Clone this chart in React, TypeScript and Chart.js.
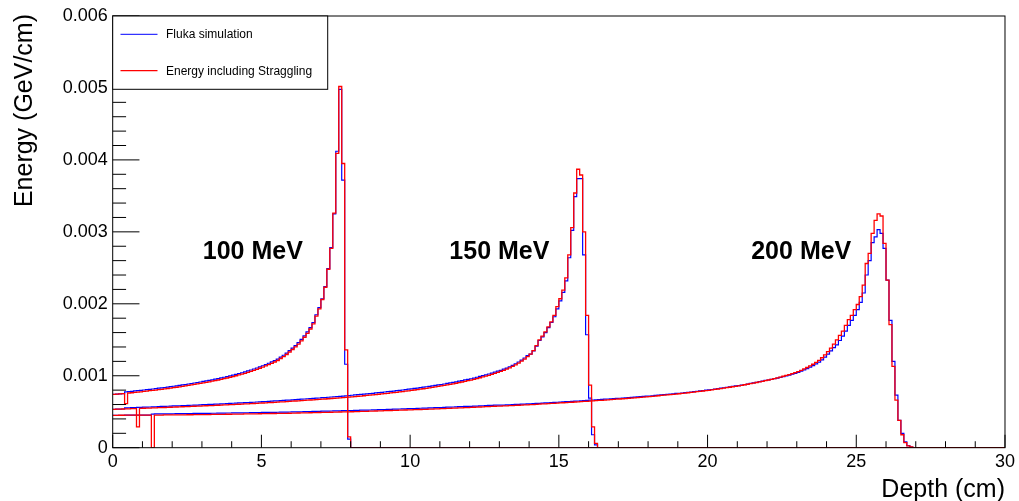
import React, { useEffect, useRef } from 'react';
import { Chart, registerables } from 'chart.js';

Chart.register(...registerables);

// ---------------- data ----------------
// Histograms with 0.1 cm bins starting at depth 0; values in 1e-6 GeV/cm.
const BIN_WIDTH = 0.1; // cm
const UNIT = 1e-6; // value unit -> GeV/cm
const X_MIN = 0;
const X_MAX = 30;
const Y_MIN = 0;
const Y_MAX = 0.006;
const X_MAJOR_STEP = 5;
const X_MINOR_STEP = 1;
const Y_MAJOR_STEP = 0.001;
const Y_MINOR_STEP = 0.0002;

const SERIES_NAMES = ['Fluka simulation', 'Energy including Straggling'];
const BEAM_LABELS = ['100 MeV', '150 MeV', '200 MeV'];
const BEAM_LABEL_DEPTH = [4.71, 13.0, 23.15];
const BEAM_LABEL_ENERGY = [0.00272, 0.00272, 0.00272];

const fluka100 = [
  740, 744, 748, 752, 776, 780, 784, 789, 793, 797,
  802, 807, 812, 816, 821, 827, 832, 837, 843, 848,
  854, 860, 866, 872, 878, 885, 892, 899, 906, 913,
  921, 928, 936, 944, 952, 961, 970, 979, 989, 999,
  1009, 1020, 1031, 1042, 1054, 1067, 1080, 1094, 1108, 1124,
  1139, 1156, 1174, 1192, 1211, 1232, 1260, 1285, 1315, 1350,
  1385, 1420, 1460, 1505, 1555, 1610, 1670, 1740, 1848, 1948,
  2070, 2240, 2490, 2780, 3250, 4120, 4980, 3720, 1160, 120,
];
const strag100 = [
  740, 744, 748, 752, 612, 760, 764, 769, 773, 777,
  782, 787, 792, 796, 801, 807, 812, 817, 823, 828,
  834, 840, 846, 852, 858, 865, 872, 879, 886, 893,
  901, 908, 916, 924, 932, 941, 950, 959, 969, 979,
  989, 1000, 1011, 1022, 1034, 1047, 1060, 1074, 1088, 1104,
  1119, 1136, 1154, 1172, 1191, 1212, 1240, 1265, 1295, 1330,
  1365, 1400, 1440, 1485, 1535, 1590, 1650, 1720, 1830, 1930,
  2060, 2230, 2480, 2770, 3260, 4090, 5020, 3950, 1360, 150,
];

const fluka150 = [
  534, 535, 537, 538, 554, 555, 557, 558, 560, 561,
  563, 565, 566, 568, 569, 571, 573, 574, 576, 577,
  580, 582, 583, 585, 586, 588, 590, 592, 593, 595,
  598, 600, 602, 603, 605, 607, 609, 611, 613, 615,
  618, 620, 622, 624, 626, 628, 630, 632, 635, 637,
  640, 642, 645, 647, 650, 652, 655, 657, 660, 662,
  666, 669, 671, 674, 677, 680, 683, 685, 688, 691,
  695, 698, 701, 705, 708, 711, 714, 718, 721, 725,
  729, 733, 737, 740, 744, 748, 752, 756, 761, 765,
  769, 774, 778, 783, 787, 792, 797, 802, 807, 813,
  818, 824, 829, 835, 841, 847, 853, 860, 866, 873,
  878, 885, 893, 900, 908, 916, 924, 933, 942, 951,
  958, 968, 979, 990, 1001, 1012, 1024, 1037, 1050, 1064,
  1076, 1091, 1107, 1125, 1145, 1167, 1191, 1218, 1247, 1280,
  1300, 1345, 1410, 1490, 1540, 1600, 1670, 1740, 1820, 1930,
  2040, 2160, 2320, 2640, 3020, 3490, 3740, 3740, 2680, 1570,
  690, 180, 40,
];
const strag150 = [
  534, 535, 537, 538, 540, 541, 543, 544, 290, 547,
  548, 550, 551, 553, 554, 556, 558, 559, 561, 562,
  564, 566, 567, 569, 570, 572, 574, 576, 577, 579,
  581, 583, 585, 586, 588, 590, 592, 594, 596, 598,
  600, 602, 604, 606, 608, 610, 612, 614, 617, 619,
  621, 623, 626, 628, 631, 633, 636, 638, 641, 643,
  646, 649, 651, 654, 657, 660, 663, 665, 668, 671,
  674, 677, 680, 684, 687, 690, 693, 697, 700, 704,
  707, 711, 715, 718, 722, 726, 730, 734, 739, 743,
  747, 752, 756, 761, 765, 770, 775, 780, 785, 791,
  796, 802, 807, 813, 819, 825, 831, 838, 844, 851,
  858, 865, 873, 880, 888, 896, 904, 913, 922, 931,
  940, 950, 961, 972, 983, 994, 1006, 1019, 1032, 1046,
  1061, 1076, 1092, 1110, 1130, 1152, 1176, 1203, 1232, 1265,
  1300, 1350, 1420, 1500, 1550, 1610, 1680, 1750, 1840, 1960,
  2070, 2190, 2360, 2680, 3060, 3540, 3870, 3790, 3000, 1840,
  870, 290, 60,
];

const fluka200 = [
  450, 450, 451, 451, 452, 452, 452, 453, 453, 453,
  454, 454, 454, 468, 470, 470, 470, 471, 471, 471,
  472, 473, 473, 474, 474, 475, 475, 476, 476, 477,
  477, 478, 478, 479, 479, 480, 481, 481, 482, 482,
  483, 484, 484, 485, 486, 486, 487, 488, 488, 489,
  490, 490, 491, 492, 492, 493, 494, 495, 495, 496,
  497, 498, 499, 500, 501, 502, 503, 504, 505, 506,
  507, 508, 509, 510, 511, 512, 513, 514, 515, 516,
  517, 518, 519, 521, 522, 523, 524, 526, 527, 528,
  530, 531, 532, 534, 535, 536, 538, 539, 541, 542,
  543, 545, 546, 548, 549, 551, 553, 554, 556, 558,
  559, 561, 563, 564, 566, 568, 570, 571, 573, 575,
  575, 577, 579, 581, 583, 585, 587, 589, 591, 592,
  592, 593, 595, 597, 599, 601, 603, 605, 607, 609,
  610, 612, 615, 617, 620, 622, 624, 627, 629, 632,
  634, 637, 639, 642, 644, 647, 649, 652, 655, 657,
  660, 663, 666, 669, 671, 674, 677, 680, 683, 686,
  687, 690, 693, 697, 700, 703, 707, 710, 713, 717,
  718, 722, 726, 730, 734, 738, 742, 746, 750, 754,
  756, 760, 765, 770, 774, 779, 784, 789, 794, 799,
  803, 809, 815, 821, 827, 833, 839, 845, 852, 858,
  863, 870, 878, 885, 893, 901, 909, 917, 926, 935,
  941, 950, 959, 968, 978, 988, 998, 1009, 1021, 1034,
  1047, 1063, 1081, 1100, 1120, 1141, 1164, 1190, 1222, 1258,
  1300, 1345, 1390, 1430, 1490, 1550, 1620, 1700, 1770, 1840,
  1920, 2020, 2150, 2400, 2600, 2850, 2930, 3030, 2980, 2770,
  2330, 1770, 1200, 730, 380, 200, 80, 30, 10,
];
const strag200 = [
  450, 450, 451, 451, 452, 452, 452, 453, 453, 453,
  454, 454, 454, 0, 454, 454, 454, 455, 455, 455,
  455, 456, 456, 457, 457, 458, 458, 459, 459, 460,
  460, 461, 461, 462, 462, 463, 464, 464, 465, 465,
  466, 467, 467, 468, 469, 469, 470, 471, 471, 472,
  473, 473, 474, 475, 475, 476, 477, 478, 478, 479,
  480, 481, 482, 483, 484, 485, 486, 487, 488, 489,
  490, 491, 492, 493, 494, 495, 496, 497, 498, 499,
  500, 501, 502, 504, 505, 506, 507, 509, 510, 511,
  513, 514, 515, 517, 518, 519, 521, 522, 524, 525,
  526, 528, 529, 531, 532, 534, 536, 537, 539, 541,
  542, 544, 546, 547, 549, 551, 553, 554, 556, 558,
  560, 562, 564, 566, 568, 570, 572, 574, 576, 577,
  578, 580, 582, 584, 586, 588, 590, 592, 594, 596,
  598, 600, 603, 605, 608, 610, 612, 615, 617, 620,
  622, 625, 627, 630, 632, 635, 637, 640, 643, 645,
  648, 651, 654, 657, 659, 662, 665, 668, 671, 674,
  677, 680, 683, 687, 690, 693, 697, 700, 703, 707,
  710, 714, 718, 722, 726, 730, 734, 738, 742, 746,
  750, 754, 759, 764, 768, 773, 778, 783, 788, 793,
  798, 804, 810, 816, 822, 828, 834, 840, 847, 853,
  860, 867, 875, 882, 890, 898, 906, 914, 923, 932,
  941, 951, 961, 971, 982, 993, 1004, 1016, 1029, 1043,
  1057, 1075, 1095, 1115, 1137, 1160, 1185, 1215, 1250, 1290,
  1335, 1385, 1440, 1500, 1560, 1620, 1700, 1780, 1840, 1920,
  1990, 2100, 2260, 2560, 2700, 2980, 3160, 3250, 3220, 2840,
  2330, 1710, 1130, 660, 380, 180, 70, 25, 10,
];

// ---------------- styles ----------------
const BLUE = '#0000ff';
const RED = '#ff0000';
const FONT = "'Liberation Sans', Arial, Helvetica, sans-serif";
const W = 1019;
const H = 501;

function toPoints(vals: number[]) {
  const pts = vals.map((v, i) => ({ x: X_MIN + i * BIN_WIDTH, y: v * UNIT }));
  pts.push({ x: X_MIN + vals.length * BIN_WIDTH, y: 0 });
  pts.push({ x: X_MAX, y: 0 });
  return pts;
}

function histDataset(label: string, vals: number[], color: string, width: number, order: number) {
  return {
    label,
    data: toPoints(vals),
    borderColor: color,
    backgroundColor: color,
    borderWidth: width,
    pointRadius: 0,
    fill: false,
    stepped: 'before' as const,
    tension: 0,
    order,
  };
}

const rootStylePlugin = {
  id: 'rootStyle',
  afterDraw(chart: any) {
    const { ctx, chartArea, scales } = chart;
    const xs = scales.x;
    const ys = scales.y;
    const { left, right, top, bottom } = chartArea;
    ctx.save();
    ctx.strokeStyle = '#000';
    ctx.lineWidth = 1;

    // frame
    ctx.strokeRect(left, top, right - left, bottom - top);

    // x ticks (inside, from bottom)
    const xTickMajor = (bottom - top) * 0.03;
    for (let v = X_MIN; v <= X_MAX + 1e-9; v += X_MINOR_STEP) {
      const px = xs.getPixelForValue(v);
      const isMajor = Math.abs(v / X_MAJOR_STEP - Math.round(v / X_MAJOR_STEP)) < 1e-6;
      const len = isMajor ? xTickMajor : xTickMajor / 2;
      ctx.beginPath();
      ctx.moveTo(px, bottom);
      ctx.lineTo(px, bottom - len);
      ctx.stroke();
    }
    // y ticks (inside, from left)
    const yTickMajor = (right - left) * 0.03;
    const nY = Math.round((Y_MAX - Y_MIN) / Y_MINOR_STEP);
    for (let k = 0; k <= nY; k++) {
      const v = Y_MIN + k * Y_MINOR_STEP;
      const py = ys.getPixelForValue(v);
      const ratio = (v - Y_MIN) / Y_MAJOR_STEP;
      const isMajor = Math.abs(ratio - Math.round(ratio)) < 1e-6;
      const len = isMajor ? yTickMajor : yTickMajor / 2;
      ctx.beginPath();
      ctx.moveTo(left, py);
      ctx.lineTo(left + len, py);
      ctx.stroke();
    }

    // legend box
    const lgR = 327.7;
    const lgB = 89.3;
    ctx.fillStyle = '#fff';
    ctx.fillRect(left, top, lgR - left, lgB - top);
    ctx.strokeRect(left, top, lgR - left, lgB - top);
    const rowY = [34.3, 70.7];
    const colors = [BLUE, RED];
    ctx.font = `12px ${FONT}`;
    ctx.textBaseline = 'middle';
    ctx.textAlign = 'left';
    for (let i = 0; i < 2; i++) {
      ctx.strokeStyle = colors[i];
      ctx.lineWidth = i === 0 ? 1 : 1.3;
      ctx.beginPath();
      ctx.moveTo(120.5, rowY[i]);
      ctx.lineTo(157.5, rowY[i]);
      ctx.stroke();
      ctx.fillStyle = '#000';
      ctx.fillText(SERIES_NAMES[i], 166, rowY[i] + 0.5);
    }

    // beam energy labels
    ctx.font = `bold 25px ${FONT}`;
    ctx.textAlign = 'center';
    ctx.textBaseline = 'middle';
    ctx.fillStyle = '#000';
    for (let i = 0; i < BEAM_LABELS.length; i++) {
      ctx.fillText(
        BEAM_LABELS[i],
        xs.getPixelForValue(BEAM_LABEL_DEPTH[i]),
        ys.getPixelForValue(BEAM_LABEL_ENERGY[i])
      );
    }

    // axis titles
    ctx.font = `25px ${FONT}`;
    ctx.textAlign = 'right';
    ctx.textBaseline = 'alphabetic';
    ctx.fillText('Depth (cm)', right, 496.5);
    ctx.save();
    ctx.translate(31.5, top - 2);
    ctx.rotate(-Math.PI / 2);
    ctx.textAlign = 'right';
    ctx.fillText('Energy (GeV/cm)', 0, 0);
    ctx.restore();

    ctx.restore();
  },
};

export default function App() {
  const ref = useRef<HTMLCanvasElement | null>(null);
  useEffect(() => {
    document.body.style.margin = '0';
    const canvas = ref.current;
    if (!canvas) return;
    // lower "order" is drawn on top: red (straggling) above blue (Fluka)
    const chart = new Chart(canvas, {
      type: 'line',
      data: {
        datasets: [
          histDataset(SERIES_NAMES[0], fluka100, BLUE, 1.2, 2),
          histDataset(SERIES_NAMES[0], fluka150, BLUE, 1.2, 2),
          histDataset(SERIES_NAMES[0], fluka200, BLUE, 1.2, 2),
          histDataset(SERIES_NAMES[1], strag100, RED, 1.3, 1),
          histDataset(SERIES_NAMES[1], strag150, RED, 1.3, 1),
          histDataset(SERIES_NAMES[1], strag200, RED, 1.3, 1),
        ] as any,
      },
      options: {
        animation: false,
        responsive: false,
        maintainAspectRatio: false,
        devicePixelRatio: 1,
        layout: { padding: { top: 16, right: 10, left: 0, bottom: 0 } },
        plugins: {
          legend: { display: false },
          tooltip: { enabled: false },
        },
        scales: {
          x: {
            type: 'linear',
            min: X_MIN,
            max: X_MAX,
            grid: { display: false, drawTicks: false },
            border: { display: false },
            ticks: {
              stepSize: X_MAJOR_STEP,
              color: '#000',
              font: { family: FONT, size: 18 },
              padding: 4,
              maxRotation: 0,
              autoSkip: false,
            },
            afterFit: (s: any) => {
              s.height = 53.3;
            },
          },
          y: {
            type: 'linear',
            min: Y_MIN,
            max: Y_MAX,
            grid: { display: false, drawTicks: false },
            border: { display: false },
            ticks: {
              stepSize: Y_MAJOR_STEP,
              color: '#000',
              font: { family: FONT, size: 18 },
              padding: 5,
              callback: (v: any) => (Number(v) === 0 ? '0' : Number(v).toFixed(3)),
            },
            afterFit: (s: any) => {
              s.width = 112.7;
            },
          },
        },
      } as any,
      plugins: [rootStylePlugin],
    });
    return () => chart.destroy();
  }, []);

  return (
    <div style={{ width: W, height: H, background: '#fff' }}>
      <canvas ref={ref} width={W} height={H} style={{ display: 'block', width: W, height: H }} />
    </div>
  );
}
